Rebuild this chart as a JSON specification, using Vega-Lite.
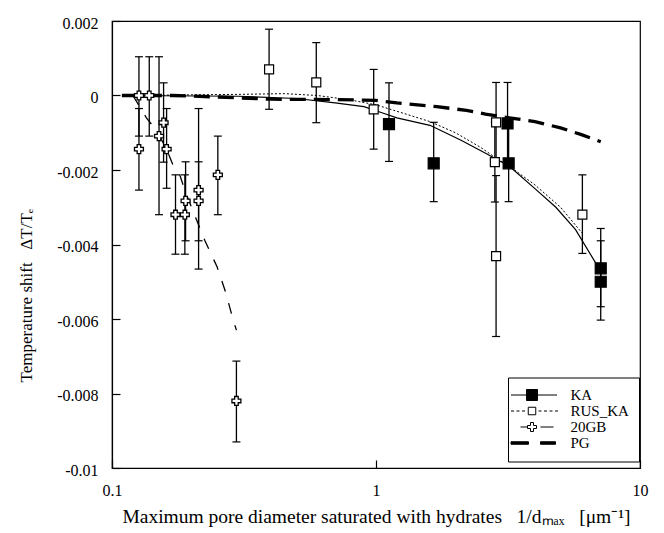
{
  "$schema": "https://vega.github.io/schema/vega-lite/v6.json",
  "width": 528,
  "height": 447,
  "autosize": {"type": "none"},
  "padding": {"left": 112, "top": 21, "right": 24, "bottom": 65},
  "background": "white",
  "config": {
    "view": {"stroke": "black", "strokeWidth": 1.2},
    "font": "Liberation Serif",
    "axis": {
      "grid": false,
      "domainColor": "black",
      "tickColor": "black",
      "labelColor": "black",
      "titleColor": "black",
      "labelFont": "Liberation Serif",
      "titleFont": "Liberation Serif",
      "labelFontSize": 16,
      "titleFontSize": 16,
      "titleFontWeight": "normal",
      "tickSize": -8,
      "tickWidth": 1.2,
      "domainWidth": 1.2
    }
  },
  "datasets": {
    "pts": [
      {"series": "20GB", "x": 0.1265, "y": 0, "lo": -0.00109, "hi": 0.00104},
      {"series": "20GB", "x": 0.1265, "y": -0.00144, "lo": -0.00254, "hi": -0.00035},
      {"series": "20GB", "x": 0.1384, "y": 0, "lo": -0.00109, "hi": 0.00104},
      {"series": "20GB", "x": 0.1507, "y": -0.00109, "lo": -0.0032, "hi": 0.00104},
      {"series": "20GB", "x": 0.1568, "y": -0.00073, "lo": -0.00179, "hi": 0.00034},
      {"series": "20GB", "x": 0.161, "y": -0.00144, "lo": -0.00249, "hi": -0.00035},
      {"series": "20GB", "x": 0.174, "y": -0.0032, "lo": -0.00426, "hi": -0.00213},
      {"series": "20GB", "x": 0.1888, "y": -0.0032, "lo": -0.00426, "hi": -0.00213},
      {"series": "20GB", "x": 0.19, "y": -0.00283, "lo": -0.0039, "hi": -0.00178},
      {"series": "20GB", "x": 0.2128, "y": -0.00254, "lo": -0.00466, "hi": -0.00035},
      {"series": "20GB", "x": 0.2128, "y": -0.00283, "lo": -0.0039, "hi": -0.00178},
      {"series": "20GB", "x": 0.2517, "y": -0.00213, "lo": -0.0032, "hi": -0.00109},
      {"series": "20GB", "x": 0.296, "y": -0.0082, "lo": -0.0093, "hi": -0.00713},
      {"series": "KA", "x": 1.12, "y": -0.00077, "lo": -0.00177, "hi": 0.00034},
      {"series": "KA", "x": 1.654, "y": -0.00182, "lo": -0.00285, "hi": -0.00072},
      {"series": "KA", "x": 3.15, "y": -0.00075, "lo": -0.00185, "hi": 0.00035},
      {"series": "KA", "x": 3.18, "y": -0.00182, "lo": -0.00285, "hi": -0.0008},
      {"series": "KA", "x": 7.1, "y": -0.00464, "lo": -0.00567, "hi": -0.00357},
      {"series": "KA", "x": 7.1, "y": -0.005, "lo": -0.00603, "hi": -0.0039},
      {"series": "RUS_KA", "x": 0.3936, "y": 0.0007, "lo": -0.00037, "hi": 0.00178},
      {"series": "RUS_KA", "x": 0.594, "y": 0.00035, "lo": -0.00073, "hi": 0.00142},
      {"series": "RUS_KA", "x": 0.98, "y": -0.00037, "lo": -0.00144, "hi": 0.0007},
      {"series": "RUS_KA", "x": 2.85, "y": -0.00072, "lo": -0.0018, "hi": 0.00035},
      {"series": "RUS_KA", "x": 2.82, "y": -0.00179, "lo": -0.00286, "hi": -0.00072},
      {"series": "RUS_KA", "x": 2.85, "y": -0.00431, "lo": -0.00647, "hi": -0.00215},
      {"series": "RUS_KA", "x": 6.05, "y": -0.0032, "lo": -0.00424, "hi": -0.00213}
    ],
    "curves": [
      {"series": "PG", "x": 0.109, "y": 0},
      {"series": "PG", "x": 0.17, "y": 0},
      {"series": "PG", "x": 0.25, "y": -0.00004},
      {"series": "PG", "x": 0.4, "y": -0.0001},
      {"series": "PG", "x": 0.7, "y": -0.00011},
      {"series": "PG", "x": 1.0, "y": -0.00013},
      {"series": "PG", "x": 1.2, "y": -0.0002},
      {"series": "PG", "x": 1.7, "y": -0.0003},
      {"series": "PG", "x": 2.2, "y": -0.0004},
      {"series": "PG", "x": 2.6, "y": -0.0005},
      {"series": "PG", "x": 3.2, "y": -0.0006},
      {"series": "PG", "x": 4.0, "y": -0.0007},
      {"series": "PG", "x": 5.0, "y": -0.00087},
      {"series": "PG", "x": 6.0, "y": -0.00105},
      {"series": "PG", "x": 7.1, "y": -0.00124},
      {"series": "KA", "x": 0.11, "y": 0},
      {"series": "KA", "x": 0.3, "y": -0.00002},
      {"series": "KA", "x": 0.5, "y": -0.00008},
      {"series": "KA", "x": 0.7, "y": -0.0002},
      {"series": "KA", "x": 0.9, "y": -0.0003},
      {"series": "KA", "x": 1.06, "y": -0.00047},
      {"series": "KA", "x": 1.2, "y": -0.0006},
      {"series": "KA", "x": 1.6, "y": -0.0008},
      {"series": "KA", "x": 2.1, "y": -0.0012},
      {"series": "KA", "x": 2.6, "y": -0.00155},
      {"series": "KA", "x": 3.2, "y": -0.0019},
      {"series": "KA", "x": 4.0, "y": -0.0025},
      {"series": "KA", "x": 4.8, "y": -0.003},
      {"series": "KA", "x": 5.7, "y": -0.0036},
      {"series": "KA", "x": 6.8, "y": -0.0045},
      {"series": "KA", "x": 7.1, "y": -0.0047},
      {"series": "RUS_KA", "x": 0.11, "y": 0},
      {"series": "RUS_KA", "x": 0.3, "y": 0.00003},
      {"series": "RUS_KA", "x": 0.45, "y": 0.00005},
      {"series": "RUS_KA", "x": 0.6, "y": 0.0},
      {"series": "RUS_KA", "x": 0.8, "y": -0.00012},
      {"series": "RUS_KA", "x": 1.0, "y": -0.00025},
      {"series": "RUS_KA", "x": 1.3, "y": -0.0005},
      {"series": "RUS_KA", "x": 1.6, "y": -0.0007},
      {"series": "RUS_KA", "x": 2.0, "y": -0.001},
      {"series": "RUS_KA", "x": 2.5, "y": -0.0014},
      {"series": "RUS_KA", "x": 2.85, "y": -0.00168},
      {"series": "RUS_KA", "x": 3.2, "y": -0.0019},
      {"series": "RUS_KA", "x": 4.0, "y": -0.0024},
      {"series": "RUS_KA", "x": 5.0, "y": -0.003},
      {"series": "RUS_KA", "x": 6.05, "y": -0.0037},
      {"series": "20GB", "x": 0.12, "y": 0},
      {"series": "20GB", "x": 0.135, "y": -0.0006},
      {"series": "20GB", "x": 0.146, "y": -0.0009},
      {"series": "20GB", "x": 0.16, "y": -0.0014},
      {"series": "20GB", "x": 0.171, "y": -0.0019},
      {"series": "20GB", "x": 0.18, "y": -0.0021},
      {"series": "20GB", "x": 0.19, "y": -0.0026},
      {"series": "20GB", "x": 0.208, "y": -0.0033},
      {"series": "20GB", "x": 0.225, "y": -0.0039},
      {"series": "20GB", "x": 0.25, "y": -0.0046},
      {"series": "20GB", "x": 0.27, "y": -0.0053},
      {"series": "20GB", "x": 0.287, "y": -0.006},
      {"series": "20GB", "x": 0.296, "y": -0.0063}
    ]
  },
  "encoding": {
    "x": {
      "field": "x", "type": "quantitative",
      "scale": {"type": "log", "domain": [0.1, 10], "nice": false},
      "axis": {
        "values": [0.1, 1, 10],
        "labelExpr": "format(datum.value, '~g')",
        "labelFlush": false,
        "labelPadding": 22,
        "titlePadding": 9,
        "titleFontSize": 19.5,
        "title": "Maximum pore diameter saturated with hydrates\u00a0\u00a0 1/dₘₐₓ\u00a0\u00a0 [μm⁻¹]"
      }
    },
    "y": {
      "field": "y", "type": "quantitative",
      "scale": {"domain": [-0.01, 0.002], "nice": false, "zero": false},
      "axis": {
        "values": [-0.01, -0.008, -0.006, -0.004, -0.002, 0, 0.002],
        "labelExpr": "datum.value == 0 ? '0' : (datum.value < 0 ? '-' : '') + format(abs(datum.value), '.3~f')",
        "labelPadding": 22,
        "labelOffset": 2,
        "title": "Temperature shift\u00a0\u00a0 ΔT/Tₑ",
        "titleFontSize": 17,
        "titleAngle": 270,
        "titleBaseline": "middle",
        "titleAlign": "left",
        "titleX": -86,
        "titleY": 361
      }
    }
  },
  "layer": [
    {
      "mark": {"type": "rule", "color": "black", "strokeWidth": 1.2},
      "encoding": {"x": null, "y": {"datum": 0, "type": "quantitative"}}
    },
    {
      "data": {"name": "curves"},
      "transform": [{"filter": "datum.series == 'PG'"}],
      "mark": {"type": "line", "color": "black", "strokeWidth": 3.3, "strokeDash": [16, 8], "clip": true}
    },
    {
      "data": {"name": "curves"},
      "transform": [{"filter": "datum.series == 'KA'"}],
      "mark": {"type": "line", "color": "black", "strokeWidth": 1.2, "clip": true}
    },
    {
      "data": {"name": "curves"},
      "transform": [{"filter": "datum.series == 'RUS_KA'"}],
      "mark": {"type": "line", "color": "black", "strokeWidth": 1, "strokeDash": [2, 2], "clip": true}
    },
    {
      "data": {"name": "curves"},
      "transform": [{"filter": "datum.series == '20GB'"}],
      "mark": {"type": "line", "color": "black", "strokeWidth": 1.3, "strokeDash": [11, 12], "clip": true}
    },
    {
      "data": {"name": "pts"},
      "mark": {"type": "rule", "color": "black", "strokeWidth": 1.3},
      "encoding": {"y": {"field": "lo", "type": "quantitative"}, "y2": {"field": "hi"}}
    },
    {
      "data": {"name": "pts"},
      "mark": {"type": "tick", "orient": "horizontal", "color": "black", "size": 8, "thickness": 1.2, "opacity": 1},
      "encoding": {"y": {"field": "lo", "type": "quantitative"}}
    },
    {
      "data": {"name": "pts"},
      "mark": {"type": "tick", "orient": "horizontal", "color": "black", "size": 8, "thickness": 1.2, "opacity": 1},
      "encoding": {"y": {"field": "hi", "type": "quantitative"}}
    },
    {
      "data": {"name": "pts"},
      "mark": {"type": "point", "filled": true, "opacity": 0, "strokeWidth": 1},
      "encoding": {
        "shape": {
          "field": "series", "type": "nominal",
          "scale": {
            "domain": ["KA", "RUS_KA", "20GB", "PG"],
            "range": [
              "M-4.2,0H-1.1M1.1,0H5M-1.1,-1.1H1.1V1.1H-1.1Z",
              "M-4.2,0H-3.6M-3.1,0H-2.5M-2,0H-1.4M1.3,0H1.9M2.4,0H3M3.5,0H4.1M4.6,0H5.2M-0.75,-0.75H0.75V0.75H-0.75Z",
              "M-2.3,0H-0.9M1.7,0H4.3M-0.3,-0.9H0.3V-0.3H0.9V0.3H0.3V0.9H-0.3V0.3H-0.9V-0.3H-0.3Z",
              "M-4.2,-0.25H-0.7V0.25H-4.2ZM1.7,-0.25H4.7V0.25H1.7Z"
            ]
          },
          "legend": {
            "orient": "none",
            "legendX": 396,
            "legendY": 356.5,
            "title": null,
            "strokeColor": "black",
            "fillColor": "white",
            "padding": 10,
            "labelFont": "Liberation Serif",
            "labelFontSize": 15,
            "labelColor": "black",
            "symbolSize": 100,
            "symbolOffset": 6.5,
            "labelOffset": 31,
            "rowPadding": 0,
            "symbolStrokeWidth": 1,
            "symbolStrokeColor": "black",
            "symbolOpacity": 1
          }
        },
        "fill": {
          "field": "series", "type": "nominal",
          "scale": {
            "domain": ["KA", "RUS_KA", "20GB", "PG"],
            "range": ["black", "white", "white", "black"]
          }
        },
        "stroke": {
          "field": "series", "type": "nominal",
          "scale": {
            "domain": ["KA", "RUS_KA", "20GB", "PG"],
            "range": ["black", "black", "black", "black"]
          }
        }
      }
    },
    {
      "data": {"name": "pts"},
      "transform": [{"filter": "datum.series == 'KA'"}],
      "mark": {"type": "point", "shape": "square", "filled": true, "fill": "black", "stroke": "black", "strokeWidth": 1.2, "size": 121, "opacity": 1}
    },
    {
      "data": {"name": "pts"},
      "transform": [{"filter": "datum.series == 'RUS_KA'"}],
      "mark": {"type": "point", "shape": "square", "filled": true, "fill": "white", "stroke": "black", "strokeWidth": 1.2, "size": 81, "opacity": 1}
    },
    {
      "data": {"name": "pts"},
      "transform": [{"filter": "datum.series == '20GB'"}],
      "mark": {"type": "point", "shape": "cross", "filled": true, "fill": "white", "stroke": "black", "strokeWidth": 1.3, "size": 80, "opacity": 1}
    }
  ]
}
